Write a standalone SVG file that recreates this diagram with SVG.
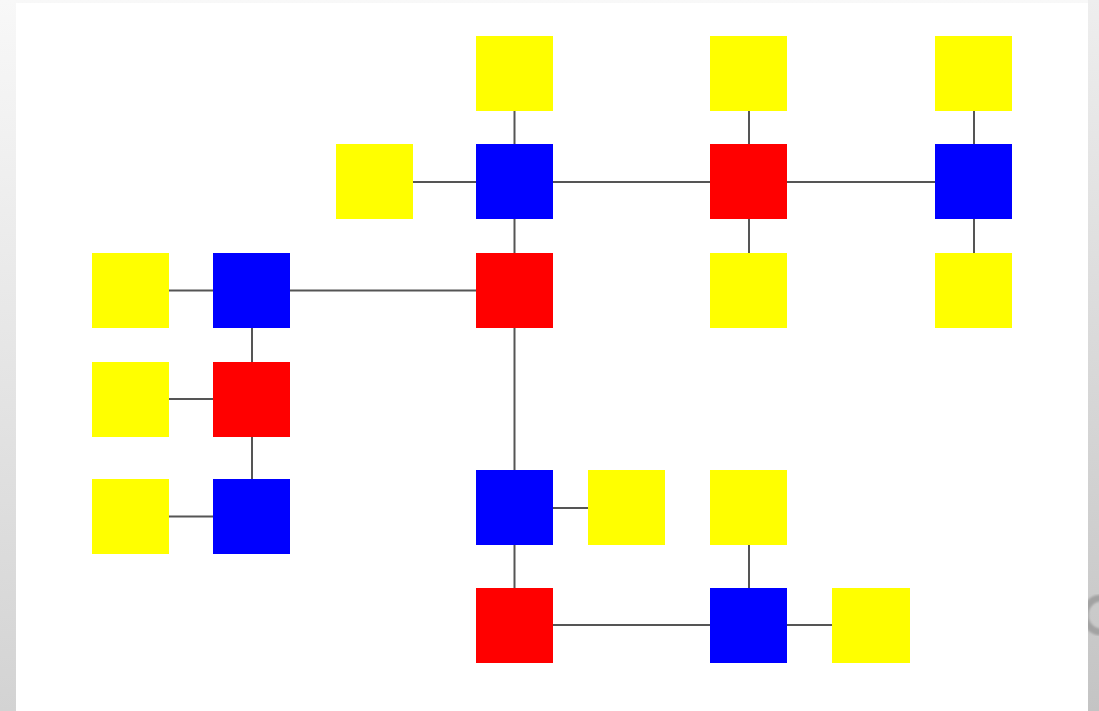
<svg xmlns="http://www.w3.org/2000/svg" width="1099" height="711" viewBox="0 0 1099 711">
<style>
.y{fill:#ffff00}
.b{fill:#0000ff}
.r{fill:#ff0000}
.e{stroke:#555555;stroke-width:2;fill:none}
</style>
<defs>
<linearGradient id="lg" x1="0" y1="0" x2="0" y2="1">
<stop offset="0" stop-color="#f8f8f8"/>
<stop offset="1" stop-color="#d3d3d3"/>
</linearGradient>
<linearGradient id="rg" x1="0" y1="0" x2="0" y2="1">
<stop offset="0" stop-color="#eeeeee"/>
<stop offset="1" stop-color="#c4c4c4"/>
</linearGradient>
<filter id="bl"><feGaussianBlur stdDeviation="1.2"/></filter>
</defs>
<rect x="0" y="0" width="1099" height="711" fill="url(#lg)"/>
<rect x="1088" y="0" width="11" height="711" fill="url(#rg)"/>
<path d="M1101,598 A16,17 0 0 0 1101,632" stroke="#a2a2a2" stroke-width="7" fill="none" filter="url(#bl)"/>
<rect x="16" y="3" width="1072" height="708" fill="#ffffff"/>
<g id="connectors" class="e">
<line x1="514.5" y1="111" x2="514.5" y2="144"/>
<line x1="413" y1="182" x2="476" y2="182"/>
<line x1="553" y1="182" x2="710" y2="182"/>
<line x1="787" y1="182" x2="935" y2="182"/>
<line x1="749" y1="111" x2="749" y2="144"/>
<line x1="749" y1="219" x2="749" y2="253"/>
<line x1="974" y1="111" x2="974" y2="144"/>
<line x1="974" y1="219" x2="974" y2="253"/>
<line x1="514.5" y1="219" x2="514.5" y2="253"/>
<line x1="290" y1="290.5" x2="476" y2="290.5"/>
<line x1="169" y1="290.5" x2="213" y2="290.5"/>
<line x1="252" y1="328" x2="252" y2="362"/>
<line x1="169" y1="399" x2="213" y2="399"/>
<line x1="252" y1="437" x2="252" y2="479"/>
<line x1="169" y1="516.5" x2="213" y2="516.5"/>
<line x1="514.5" y1="328" x2="514.5" y2="470"/>
<line x1="553" y1="508" x2="588" y2="508"/>
<line x1="514.5" y1="545" x2="514.5" y2="588"/>
<line x1="553" y1="625" x2="710" y2="625"/>
<line x1="749" y1="545" x2="749" y2="588"/>
<line x1="787" y1="625" x2="832" y2="625"/>
</g>
<g id="n1"><rect class="y" x="476" y="36" width="77" height="75"/></g>
<g id="n2"><rect class="y" x="710" y="36" width="77" height="75"/></g>
<g id="n3"><rect class="y" x="935" y="36" width="77" height="75"/></g>
<g id="n4"><rect class="y" x="336" y="144" width="77" height="75"/></g>
<g id="n5"><rect class="b" x="476" y="144" width="77" height="75"/></g>
<g id="n6"><rect class="r" x="710" y="144" width="77" height="75"/></g>
<g id="n7"><rect class="b" x="935" y="144" width="77" height="75"/></g>
<g id="n8"><rect class="y" x="92" y="253" width="77" height="75"/></g>
<g id="n9"><rect class="b" x="213" y="253" width="77" height="75"/></g>
<g id="n10"><rect class="r" x="476" y="253" width="77" height="75"/></g>
<g id="n11"><rect class="y" x="710" y="253" width="77" height="75"/></g>
<g id="n12"><rect class="y" x="935" y="253" width="77" height="75"/></g>
<g id="n13"><rect class="y" x="92" y="362" width="77" height="75"/></g>
<g id="n14"><rect class="r" x="213" y="362" width="77" height="75"/></g>
<g id="n15"><rect class="y" x="92" y="479" width="77" height="75"/></g>
<g id="n16"><rect class="b" x="213" y="479" width="77" height="75"/></g>
<g id="n17"><rect class="b" x="476" y="470" width="77" height="75"/></g>
<g id="n18"><rect class="y" x="588" y="470" width="77" height="75"/></g>
<g id="n19"><rect class="y" x="710" y="470" width="77" height="75"/></g>
<g id="n20"><rect class="r" x="476" y="588" width="77" height="75"/></g>
<g id="n21"><rect class="b" x="710" y="588" width="77" height="75"/></g>
<g id="n22"><rect class="y" x="832" y="588" width="78" height="75"/></g>
</svg>
